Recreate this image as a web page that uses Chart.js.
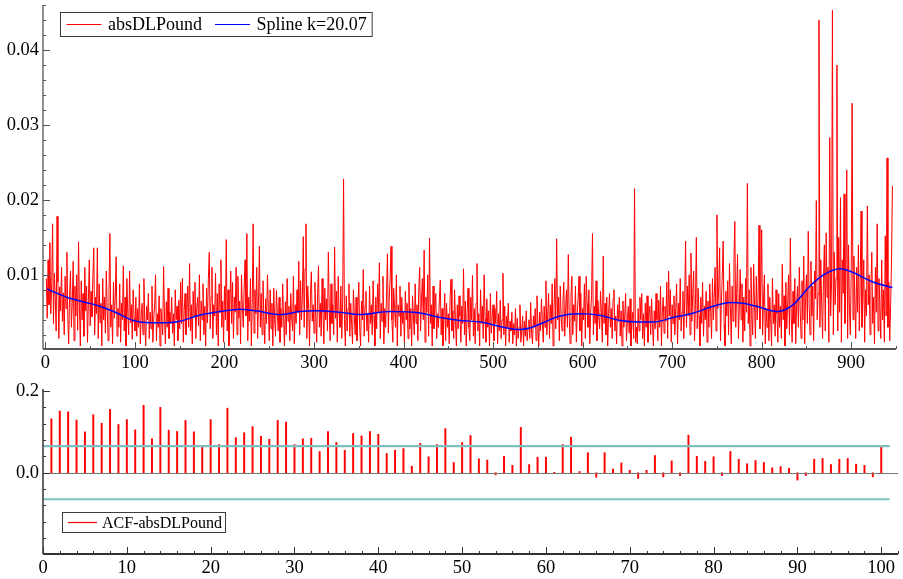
<!DOCTYPE html>
<html>
<head>
<meta charset="utf-8">
<script src="https://cdn.jsdelivr.net/npm/chart.js@4.4.1/dist/chart.umd.min.js"></script>
<style>
  html, body { margin: 0; padding: 0; background: #fff; }
  #wrap { position: relative; width: 903px; height: 579px; overflow: hidden; background: #fff; }
  #wrap canvas { position: absolute; left: 0; }
  #top { top: 0; }
  #bottom { top: 380px; }
</style>
</head>
<body>
<div id="wrap">
  <canvas id="top" width="903" height="380"></canvas>
  <canvas id="bottom" width="903" height="199"></canvas>
</div>
<script>
// ---- series names ----
const seriesName = 'absDLPound';
const splineName = 'Spline k=20.07';
const acfName = 'ACF-absDLPound';

// ---- absolute daily log-returns, observation 1..946 ----
const absDLPound = [
  .0095,.0042,.0120,.0060,.0143,.0048,.0088,.0168,.0035,.0102,.0070,.0025,.0178,.0090,.0015,.0084,.0052,.0110,.0038,.0076,
  .0020,.0098,.0055,.0130,.0042,.0008,.0072,.0105,.0030,.0062,.0118,.0012,.0085,.0045,.0100,.0026,.0144,.0058,.0005,.0092,
  .0040,.0075,.0018,.0110,.0052,.0085,.0010,.0066,.0120,.0032,.0078,.0044,.0098,.0136,.0020,.0070,.0048,.0136,.0015,.0088,
  .0036,.0062,.0005,.0095,.0040,.0070,.0022,.0105,.0055,.0012,.0080,.0155,.0030,.0060,.0008,.0090,.0042,.0070,.0124,.0018,
  .0055,.0030,.0088,.0010,.0062,.0040,.0112,.0025,.0070,.0005,.0095,.0048,.0020,.0105,.0036,.0060,.0014,.0080,.0042,.0025,
  .0070,.0018,.0055,.0030,.0088,.0008,.0046,.0062,.0020,.0095,.0035,.0005,.0058,.0040,.0075,.0015,.0050,.0028,.0085,.0010,
  .0042,.0060,.0100,.0012,.0048,.0030,.0072,.0005,.0055,.0038,.0020,.0111,.0045,.0008,.0064,.0030,.0082,.0015,.0050,.0035,
  .0070,.0022,.0048,.0005,.0080,.0040,.0058,.0012,.0066,.0028,.0090,.0035,.0095,.0010,.0052,.0075,.0020,.0044,.0085,.0030,
  .0115,.0025,.0060,.0008,.0078,.0045,.0090,.0015,.0055,.0070,.0032,.0100,.0012,.0065,.0040,.0088,.0020,.0058,.0005,.0082,
  .0036,.0095,.0130,.0028,.0070,.0110,.0015,.0060,.0045,.0102,.0020,.0075,.0005,.0088,.0050,.0120,.0030,.0065,.0010,.0085,
  .0040,.0147,.0025,.0080,.0005,.0060,.0105,.0035,.0090,.0015,.0070,.0050,.0110,.0020,.0098,.0042,.0065,.0008,.0100,.0055,
  .0030,.0085,.0120,.0045,.0155,.0012,.0070,.0038,.0095,.0005,.0060,.0168,.0022,.0080,.0048,.0110,.0015,.0065,.0138,.0030,
  .0075,.0020,.0092,.0045,.0008,.0068,.0035,.0100,.0055,.0012,.0080,.0028,.0062,.0005,.0082,.0040,.0018,.0079,.0050,.0025,
  .0070,.0010,.0055,.0030,.0088,.0042,.0005,.0064,.0020,.0095,.0038,.0058,.0012,.0075,.0045,.0025,.0098,.0008,.0060,.0035,
  .0080,.0050,.0118,.0020,.0092,.0040,.0070,.0151,.0030,.0108,.0168,.0015,.0085,.0055,.0005,.0072,.0104,.0038,.0060,.0022,
  .0090,.0045,.0010,.0075,.0112,.0030,.0062,.0018,.0095,.0050,.0008,.0082,.0040,.0068,.0025,.0130,.0055,.0012,.0088,.0035,
  .0060,.0020,.0137,.0042,.0078,.0010,.0098,.0050,.0030,.0085,.0015,.0065,.0228,.0040,.0005,.0072,.0025,.0055,.0088,.0018,
  .0062,.0035,.0008,.0080,.0045,.0020,.0070,.0012,.0055,.0090,.0030,.0005,.0065,.0040,.0107,.0018,.0058,.0078,.0025,.0048,
  .0010,.0085,.0035,.0060,.0020,.0092,.0045,.0005,.0070,.0028,.0088,.0050,.0116,.0015,.0062,.0038,.0098,.0008,.0055,.0030,
  .0075,.0128,.0022,.0068,.0095,.0138,.0040,.0010,.0082,.0055,.0030,.0100,.0005,.0060,.0045,.0085,.0018,.0070,.0035,.0050,
  .0008,.0078,.0040,.0062,.0015,.0090,.0028,.0055,.0005,.0072,.0045,.0020,.0088,.0035,.0060,.0012,.0080,.0110,.0025,.0065,
  .0095,.0040,.0133,.0010,.0070,.0050,.0100,.0018,.0149,.0035,.0060,.0005,.0085,.0028,.0055,.0075,.0015,.0048,.0030,.0068,
  .0093,.0020,.0055,.0005,.0040,.0075,.0012,.0062,.0030,.0048,.0008,.0070,.0094,.0025,.0052,.0015,.0080,.0038,.0005,.0060,
  .0028,.0072,.0045,.0010,.0058,.0035,.0108,.0020,.0065,.0005,.0050,.0082,.0030,.0012,.0070,.0040,.0099,.0018,.0055,.0008,
  .0062,.0115,.0025,.0048,.0005,.0080,.0035,.0058,.0015,.0100,.0042,.0010,.0068,.0030,.0052,.0005,.0075,.0022,.0045,.0060,
  .0012,.0055,.0035,.0078,.0008,.0048,.0025,.0066,.0015,.0040,.0102,.0020,.0058,.0005,.0045,.0030,.0062,.0010,.0038,.0025,
  .0050,.0008,.0035,.0020,.0055,.0005,.0042,.0015,.0030,.0060,.0010,.0025,.0045,.0005,.0038,.0018,.0052,.0012,.0028,.0040,
  .0015,.0063,.0022,.0008,.0045,.0030,.0055,.0012,.0072,.0035,.0005,.0050,.0025,.0068,.0040,.0010,.0058,.0030,.0092,.0020,
  .0048,.0075,.0015,.0060,.0035,.0088,.0005,.0052,.0095,.0028,.0148,.0040,.0070,.0012,.0085,.0045,.0025,.0065,.0090,.0018,
  .0055,.0080,.0030,.0127,.0045,.0008,.0072,.0098,.0020,.0060,.0038,.0085,.0010,.0050,.0068,.0098,.0025,.0075,.0005,.0055,
  .0040,.0088,.0015,.0098,.0062,.0030,.0080,.0008,.0050,.0072,.0155,.0020,.0058,.0035,.0092,.0012,.0066,.0045,.0028,.0078,
  .0050,.0010,.0125,.0035,.0062,.0020,.0070,.0005,.0048,.0075,.0030,.0055,.0015,.0068,.0080,.0025,.0045,.0008,.0060,.0038,
  .0070,.0018,.0052,.0005,.0065,.0030,.0045,.0075,.0012,.0040,.0058,.0022,.0068,.0005,.0035,.0050,.0015,.0215,.0010,.0030,
  .0008,.0055,.0025,.0070,.0040,.0075,.0015,.0048,.0005,.0062,.0030,.0072,.0010,.0045,.0058,.0020,.0068,.0035,.0005,.0052,
  .0028,.0075,.0040,.0012,.0066,.0030,.0085,.0005,.0050,.0070,.0022,.0058,.0038,.0090,.0015,.0105,.0045,.0080,.0010,.0060,
  .0035,.0072,.0020,.0055,.0088,.0008,.0062,.0040,.0095,.0025,.0050,.0078,.0015,.0068,.0145,.0030,.0085,.0045,.0100,.0020,
  .0129,.0038,.0075,.0105,.0012,.0060,.0150,.0028,.0082,.0045,.0005,.0070,.0035,.0090,.0018,.0058,.0040,.0078,.0010,.0065,
  .0030,.0088,.0050,.0015,.0095,.0040,.0070,.0110,.0025,.0180,.0055,.0085,.0136,.0012,.0065,.0100,.0145,.0035,.0005,.0078,
  .0045,.0092,.0020,.0115,.0060,.0008,.0085,.0038,.0120,.0171,.0030,.0075,.0127,.0015,.0055,.0107,.0040,.0088,.0010,.0070,
  .0025,.0095,.0050,.0222,.0035,.0080,.0005,.0110,.0045,.0020,.0114,.0060,.0015,.0098,.0040,.0070,.0166,.0028,.0085,.0160,
  .0020,.0065,.0100,.0008,.0055,.0030,.0088,.0012,.0070,.0042,.0005,.0095,.0035,.0060,.0018,.0080,.0048,.0010,.0075,.0030,
  .0058,.0015,.0114,.0040,.0072,.0005,.0090,.0028,.0062,.0100,.0020,.0149,.0045,.0010,.0078,.0035,.0095,.0008,.0060,.0085,
  .0030,.0110,.0055,.0015,.0092,.0040,.0125,.0008,.0070,.0100,.0035,.0158,.0060,.0020,.0118,.0045,.0085,.0012,.0105,.0068,
  .0199,.0040,.0075,.0440,.0030,.0120,.0060,.0015,.0095,.0140,.0025,.0156,.0070,.0110,.0010,.0283,.0045,.0088,.0453,.0020,
  .0130,.0060,.0095,.0380,.0025,.0150,.0050,.0203,.0010,.0120,.0075,.0208,.0035,.0090,.0240,.0015,.0140,.0055,.0020,.0105,
  .0329,.0040,.0125,.0070,.0015,.0110,.0050,.0140,.0025,.0090,.0185,.0030,.0065,.0120,.0010,.0080,.0045,.0192,.0060,.0100,
  .0020,.0085,.0130,.0035,.0070,.0008,.0110,.0050,.0168,.0025,.0095,.0060,.0015,.0120,.0040,.0080,.0010,.0152,.0045,.0256,
  .0030,.0090,.0012,.0060,.0120,.0219
];

// ---- smoothing spline (k=20.07), knots along the sample ----
const splineX = [2, 24, 42, 61, 80, 98, 117, 135, 150, 172, 195, 217, 235, 262, 284, 303, 329, 351, 385, 418, 441, 463, 486, 508, 529, 541, 552, 575, 597, 619, 642, 664, 679, 701, 724, 746, 765, 779, 794, 817, 835, 854, 869, 888, 902, 925, 946];
const splineY = [.0081, .0070, .0064, .0058, .0049, .0039, .0036, .0036, .0038, .0046, .0051, .0054, .0052, .0047, .0051, .0052, .0050, .0047, .0051, .0049, .0043, .0039, .0037, .0031, .0027, .0029, .0034, .0045, .0048, .0046, .0039, .0037, .0037, .0043, .0049, .0058, .0063, .0062, .0058, .0051, .0060, .0085, .0100, .0108, .0103, .0090, .0083];

// ---- autocorrelations, lags 1..100 ----
const acfValues = [
  .132, .151, .149, .129, .100, .142, .121, .155, .118, .130,
  .105, .165, .083, .160, .104, .101, .128, .100, .066, .130,
  .069, .158, .086, .098, .113, .089, .082, .128, .124, .069,
  .083, .084, .052, .101, .074, .055, .096, .090, .101, .094,
  .047, .055, .059, .016, .072, .039, .069, .108, .025, .074,
  .091, .034, .031, -.005, .040, .018, .111, .020, .038, .038,
  .001, .069, .087, .003, .049, -.011, .049, .009, .024, .006,
  -.014, .006, .042, -.010, .029, -.007, .092, .040, .028, .039,
  -.007, .052, .033, .022, .030, .025, .012, .015, .011, -.018,
  -.007, .033, .035, .020, .033, .035, .021, .018, -.010, .063
];
// +/- 2/sqrt(T) band, drawn across the lag range
const bandLags = [0, 101];
const bandLevel = 0.065;

// ---- tick labels ----
const topXTicks = [0, 100, 200, 300, 400, 500, 600, 700, 800, 900];
const topYTicks = [0.01, 0.02, 0.03, 0.04];
const bottomXTicks = [0, 10, 20, 30, 40, 50, 60, 70, 80, 90, 100];
const bottomYTicks = [0.0, 0.2];

const SERIF = "'Liberation Serif', 'Times New Roman', Times, serif";
const tickFont = { family: SERIF, size: 18.5 };

// Axis frame: left and bottom axis lines with inward major/minor ticks.
const frameAxes = {
  id: 'frameAxes',
  afterDatasetsDraw(chart, args, o) {
    const { ctx, chartArea: a, scales } = chart;
    const xs = scales.x, ys = scales.y;
    ctx.save();
    ctx.strokeStyle = o.color;
    ctx.lineCap = 'butt';
    const seg = (x1, y1, x2, y2, w) => {
      ctx.lineWidth = w;
      ctx.beginPath();
      ctx.moveTo(x1, y1);
      ctx.lineTo(x2, y2);
      ctx.stroke();
    };
    const steps = (min, max, step) => {
      const out = [];
      for (let k = Math.ceil(min / step - 1e-9); k * step <= max + 1e-12; k++) out.push(k * step);
      return out;
    };
    const isMajor = (v, major) => Math.abs(v / major - Math.round(v / major)) < 1e-6;
    if (o.zeroLine) {
      const zy = Math.round(ys.getPixelForValue(0)) + 0.5;
      ctx.strokeStyle = o.zeroColor;
      seg(a.left, zy, a.right, zy, 1);
      ctx.strokeStyle = o.color;
    }
    seg(a.left, a.top, a.left, a.bottom, o.leftWidth);
    seg(a.left, a.bottom, a.right, a.bottom, o.bottomWidth);
    for (const v of steps(ys.min, ys.max, o.yMinor)) {
      const p = Math.round(ys.getPixelForValue(v)) + 0.5;
      const len = isMajor(v, o.yMajor) ? o.majorLen : o.minorLen;
      seg(a.left, p, a.left + len, p, 1);
    }
    for (const v of steps(Math.max(xs.min, 0), xs.max, o.xMinor)) {
      const p = Math.round(xs.getPixelForValue(v)) + 0.5;
      const len = isMajor(v, o.xMajor) ? o.majorLen : o.minorLen;
      seg(p, a.bottom, p, a.bottom - len, 1);
    }
    ctx.restore();
  }
};

// Boxed legend placed inside the plot area.
const boxLegend = {
  id: 'boxLegend',
  afterDraw(chart, args, o) {
    const ctx = chart.ctx;
    ctx.save();
    ctx.font = `${o.size}px ${SERIF}`;
    const widths = o.items.map(it => ctx.measureText(it.text).width);
    let total = o.pad + o.padRight;
    o.items.forEach((it, i) => { total += o.sample + o.gap + widths[i]; });
    total += (o.items.length - 1) * o.itemGap;
    ctx.fillStyle = '#fff';
    ctx.fillRect(o.left, o.top, total, o.height);
    ctx.strokeStyle = '#3a3a3a';
    ctx.lineWidth = 1;
    ctx.strokeRect(o.left + 0.5, o.top + 0.5, total, o.height);
    const cy = o.top + o.height / 2 + 0.5;
    let x = o.left + o.pad;
    ctx.textBaseline = 'middle';
    ctx.textAlign = 'left';
    o.items.forEach((it, i) => {
      ctx.strokeStyle = it.color;
      ctx.lineWidth = 1.2;
      ctx.beginPath();
      ctx.moveTo(x, cy);
      ctx.lineTo(x + o.sample, cy);
      ctx.stroke();
      x += o.sample + o.gap;
      ctx.fillStyle = '#000';
      ctx.fillText(it.text, x, cy + 1);
      x += widths[i] + o.itemGap;
    });
    ctx.restore();
  }
};

const baseTicks = (cb, pad) => ({
  font: tickFont, color: '#000', padding: pad, maxRotation: 0, autoSkip: false, callback: cb
});
// fixed axis sizes, no extra room reserved for end labels
const fixWidth = w => s => { s.width = w; s.paddingTop = 0; s.paddingBottom = 0; };
const fixHeight = h => s => { s.height = h; s.paddingLeft = 0; s.paddingRight = 0; };

// ---- upper panel: series and spline ----
new Chart(document.getElementById('top'), {
  type: 'line',
  data: {
    datasets: [
      {
        label: seriesName,
        data: absDLPound.map((v, i) => ({ x: i + 1, y: v })),
        borderColor: '#ff0000', borderWidth: 1, pointRadius: 0, tension: 0, order: 2
      },
      {
        label: splineName,
        data: splineX.map((x, i) => ({ x, y: splineY[i] })),
        borderColor: '#0000ff', borderWidth: 1.5, pointRadius: 0,
        cubicInterpolationMode: 'monotone', order: 1
      }
    ]
  },
  options: {
    responsive: false, animation: false, devicePixelRatio: 1,
    layout: { padding: { top: 5, right: 7, left: 0, bottom: 0 } },
    plugins: {
      legend: { display: false }, tooltip: { enabled: false },
      frameAxes: { color: '#555', leftWidth: 1.3, bottomWidth: 2, yMinor: 0.002, yMajor: 0.01, xMinor: 50, xMajor: 100, majorLen: 7, minorLen: 3 },
      boxLegend: {
        left: 60, top: 12, height: 24, size: 18, pad: 6.5, padRight: 5, sample: 35, gap: 6.5, itemGap: 13,
        items: [{ text: seriesName, color: '#ff0000' }, { text: splineName, color: '#0000ff' }]
      }
    },
    scales: {
      x: {
        type: 'linear', min: -2.7, max: 950,
        grid: { display: false, drawTicks: false }, border: { display: false },
        ticks: baseTicks(v => String(v), 3),
        afterBuildTicks: s => { s.ticks = topXTicks.map(v => ({ value: v })); },
        afterFit: fixHeight(31)
      },
      y: {
        type: 'linear', min: 0.0001, max: 0.046,
        grid: { display: false, drawTicks: false }, border: { display: false },
        ticks: baseTicks(v => v.toFixed(2), 4),
        afterBuildTicks: s => { s.ticks = topYTicks.map(v => ({ value: v })); },
        afterFit: fixWidth(43)
      }
    }
  },
  plugins: [frameAxes, boxLegend]
});

// ---- lower panel: autocorrelation function ----
new Chart(document.getElementById('bottom'), {
  type: 'bar',
  data: {
    datasets: [
      {
        type: 'bar', label: acfName,
        data: acfValues.map((v, i) => ({ x: i + 1, y: v })),
        backgroundColor: '#ff0000', borderWidth: 0, barThickness: 1.3, grouped: false, order: 2
      },
      {
        type: 'line', label: 'upper',
        data: bandLags.map(x => ({ x, y: bandLevel })),
        borderColor: '#7cc0c0', borderWidth: 2.2, pointRadius: 0, order: 1
      },
      {
        type: 'line', label: 'lower',
        data: bandLags.map(x => ({ x, y: -bandLevel })),
        borderColor: '#7cc0c0', borderWidth: 2.2, pointRadius: 0, order: 1
      }
    ]
  },
  options: {
    responsive: false, animation: false, devicePixelRatio: 1,
    layout: { padding: { top: 9, right: 5, left: 0, bottom: 0 } },
    plugins: {
      legend: { display: false }, tooltip: { enabled: false },
      frameAxes: { color: '#333', zeroLine: true, zeroColor: '#777', leftWidth: 1.5, bottomWidth: 1.8, yMinor: 0.04, yMajor: 0.2, xMinor: 2, xMajor: 10, majorLen: 7, minorLen: 3 },
      boxLegend: {
        left: 62, top: 132, height: 20, size: 16, pad: 6, padRight: 3, sample: 29, gap: 5, itemGap: 10,
        items: [{ text: acfName, color: '#ff0000' }]
      }
    },
    scales: {
      x: {
        type: 'linear', min: 0, max: 102, offset: false,
        grid: { display: false, drawTicks: false }, border: { display: false },
        ticks: baseTicks(v => String(v), 3),
        afterBuildTicks: s => { s.ticks = bottomXTicks.map(v => ({ value: v })); },
        afterFit: fixHeight(25)
      },
      y: {
        type: 'linear', min: -0.199, max: 0.205,
        grid: { display: false, drawTicks: false }, border: { display: false },
        ticks: baseTicks(v => v.toFixed(1), 4),
        afterBuildTicks: s => { s.ticks = bottomYTicks.map(v => ({ value: v })); },
        afterFit: fixWidth(43)
      }
    }
  },
  plugins: [frameAxes, boxLegend]
});
</script>
</body>
</html>
